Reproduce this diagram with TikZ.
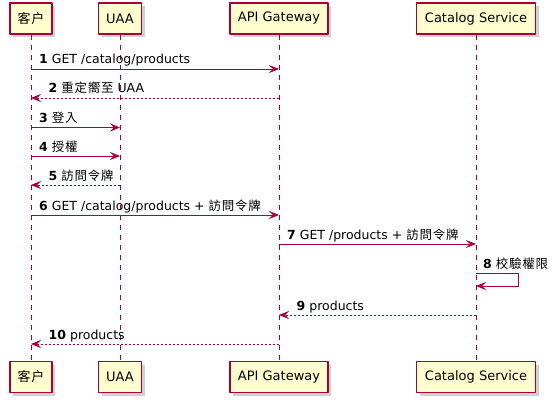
\documentclass[tikz,border=0pt]{standalone}
\usepackage{fontspec}
\setmainfont{DejaVu Sans}
\newfontfamily\cjk[LetterSpace=6]{Noto Sans CJK TC}
\usetikzlibrary{arrows.meta,shadows}
\definecolor{umlred}{HTML}{A80036}
\definecolor{umlfill}{HTML}{FEFECE}

\begin{document}
\begin{tikzpicture}[
    x=1pt, y=-1pt,
    line join=round,
    actor/.style={
      draw=umlred, fill=umlfill, line width=1.2pt,
      minimum height=31pt, inner sep=0pt,
      font=\fontsize{13}{15}\selectfont,
      drop shadow={shadow xshift=3pt, shadow yshift=-3pt, opacity=0.3, fill=black!60}
    },
    lifeline/.style={draw=umlred, line width=0.8pt, dash pattern=on 5pt off 5pt},
    msg/.style={draw=umlred, line width=0.8pt, -{Stealth[length=10pt,width=8pt,inset=4pt]}},
    reply/.style={msg, dash pattern=on 2pt off 2pt},
    label/.style={font=\fontsize{12.5}{14}\selectfont, inner sep=0pt, anchor=base west}
]
\useasboundingbox (0,0) rectangle (559,401);

% participants, top and bottom, with lifelines
\foreach \n/\x/\w/\t in {cli/31/42/{\cjk 客户}, uaa/120/43/UAA, gw/279/98/API Gateway, cat/476/119/Catalog Service} {
  \node[actor, minimum width=\w pt] (\n-t) at (\x,18.5) {\t};
  \node[actor, minimum width=\w pt] (\n-b) at (\x,377) {\t};
  \draw[lifeline] (\n-t) -- (\n-b);
}

% message levels
\coordinate (m1) at (0,69);
\coordinate (m2) at (0,98);
\coordinate (m3) at (0,127.5);
\coordinate (m4) at (0,156);
\coordinate (m5) at (0,185);
\coordinate (m6) at (0,215);
\coordinate (m7) at (0,244);
\coordinate (m8) at (0,273);
\coordinate (m8r) at (0,286);
\coordinate (m9) at (0,315);
\coordinate (m10) at (0,344);

\draw[msg] (cli-t |- m1) -- (gw-t |- m1);
\node[label] (l1) at ([xshift=8pt,yshift=5pt]cli-t |- m1) {\textbf{1} GET /catalog/products};

\draw[reply] (gw-t |- m2) -- (cli-t |- m2);
\node[label] (l2) at ([xshift=17.5pt,yshift=5pt]cli-t |- m2) {\textbf{2} {\cjk 重定嚮至} UAA};

\draw[msg] (cli-t |- m3) -- (uaa-t |- m3);
\node[label] (l3) at ([xshift=8pt,yshift=5pt]cli-t |- m3) {\textbf{3} {\cjk 登入}};

\draw[msg] (cli-t |- m4) -- (uaa-t |- m4);
\node[label] (l4) at ([xshift=8pt,yshift=5pt]cli-t |- m4) {\textbf{4} {\cjk 授權}};

\draw[reply] (uaa-t |- m5) -- (cli-t |- m5);
\node[label] (l5) at ([xshift=17.5pt,yshift=5pt]cli-t |- m5) {\textbf{5} {\cjk 訪問令牌}};

\draw[msg] (cli-t |- m6) -- (gw-t |- m6);
\node[label] (l6) at ([xshift=8pt,yshift=5pt]cli-t |- m6) {\textbf{6} GET /catalog/products + {\cjk 訪問令牌}};

\draw[msg] (gw-t |- m7) -- (cat-t |- m7);
\node[label] (l7) at ([xshift=8pt,yshift=5pt]gw-t |- m7) {\textbf{7} GET /products + {\cjk 訪問令牌}};

\draw[msg] (cat-t |- m8) -- ++(42,0) |- (cat-t |- m8r);
\node[label] (l8) at ([xshift=7pt,yshift=5pt]cat-t |- m8) {\textbf{8} {\cjk 校驗權限}};

\draw[reply] (cat-t |- m9) -- (gw-t |- m9);
\node[label] (l9) at ([xshift=17.5pt,yshift=5pt]gw-t |- m9) {\textbf{9} products};

\draw[reply] (gw-t |- m10) -- (cli-t |- m10);
\node[label] (l10) at ([xshift=17.5pt,yshift=5pt]cli-t |- m10) {\textbf{10} products};
\end{tikzpicture}
\end{document}
